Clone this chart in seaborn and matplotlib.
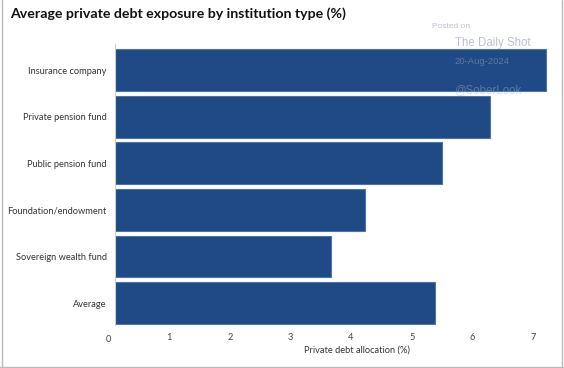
import matplotlib
matplotlib.use("Agg")
import matplotlib.pyplot as plt
from matplotlib.lines import Line2D
from matplotlib.transforms import blended_transform_factory
import seaborn as sns
import pandas as pd

categories = ["Insurance company", "Private pension fund", "Public pension fund",
              "Foundation/endowment", "Sovereign wealth fund", "Average"]
values = [7.21, 6.29, 5.50, 4.23, 3.67, 5.39]
xticks = [1, 2, 3, 4, 5, 6, 7]

df = pd.DataFrame({"category": categories, "value": values})

sns.set_theme(style="white")
plt.rcParams["font.family"] = ["Lato", "DejaVu Sans"]

fig = plt.figure(figsize=(5.64, 3.68), dpi=100)
ax = fig.add_axes([115/564, 1-325/368, (548-115)/564, (325-44)/368])

sns.barplot(data=df, x="value", y="category", orient="h", color="#1f4a85",
            saturation=1, width=0.895, edgecolor="#4f73a8", linewidth=0.8, ax=ax)

ax.set_xlim(0.107, 7.247)
ax.set_ylim(5.47, -0.56)
ax.set_xticks(xticks)
ax.set_xticklabels([str(t) for t in xticks])
ax.tick_params(axis="x", length=0, pad=6, labelsize=6.7, labelcolor="#444444")
ax.tick_params(axis="y", length=0, pad=6, labelsize=6.7, labelcolor="#333333")
ax.set_ylabel("")
ax.set_xlabel("Private debt allocation (%)", fontsize=6.7, color="#333333")
ax.xaxis.set_label_coords(0.559, -0.075)

for s in ["top", "right", "bottom"]:
    ax.spines[s].set_visible(False)
ax.spines["left"].set_color("#cccccc")
ax.spines["left"].set_linewidth(0.8)

trans = blended_transform_factory(ax.transData, ax.transAxes)
ax.text(0, -0.035, "0", transform=trans, ha="center", va="top",
        fontsize=6.7, color="#444444", clip_on=False)

fig.text(10/564, 1-14/368, "Average private debt exposure by institution type (%)",
         fontsize=10.2, fontweight="bold", color="#111111", ha="left", va="center")

wm = "#aab2c4"
wf = ["Liberation Sans", "DejaVu Sans"]
fig.text(451/564, 1-27/368, "Posted on", fontsize=6, color=wm, ha="center", va="center",
         alpha=0.8, zorder=10, family=wf)
fig.text(493/564, 1-43/368, "The Daily Shot", fontsize=8.3, color=wm, ha="center", va="center",
         alpha=0.8, zorder=10, family=wf)
fig.text(482/564, 1-61/368, "20-Aug-2024", fontsize=6.8, color=wm, ha="center", va="center",
         alpha=0.45, zorder=10, family=wf)
fig.text(488/564, 1-90/368, "@SoberLook", fontsize=8.3, color=wm, ha="center", va="center",
         alpha=0.45, zorder=10, family=wf)

bc = "#bbbbbb"
fig.add_artist(Line2D([1.5/564, 1.5/564], [0, 1], transform=fig.transFigure, color=bc, lw=1))
fig.add_artist(Line2D([561.5/564, 561.5/564], [0, 1], transform=fig.transFigure, color=bc, lw=1))
fig.add_artist(Line2D([0, 1], [1.5/368, 1.5/368], transform=fig.transFigure, color=bc, lw=1))

fig.savefig("out.png", dpi=100)
